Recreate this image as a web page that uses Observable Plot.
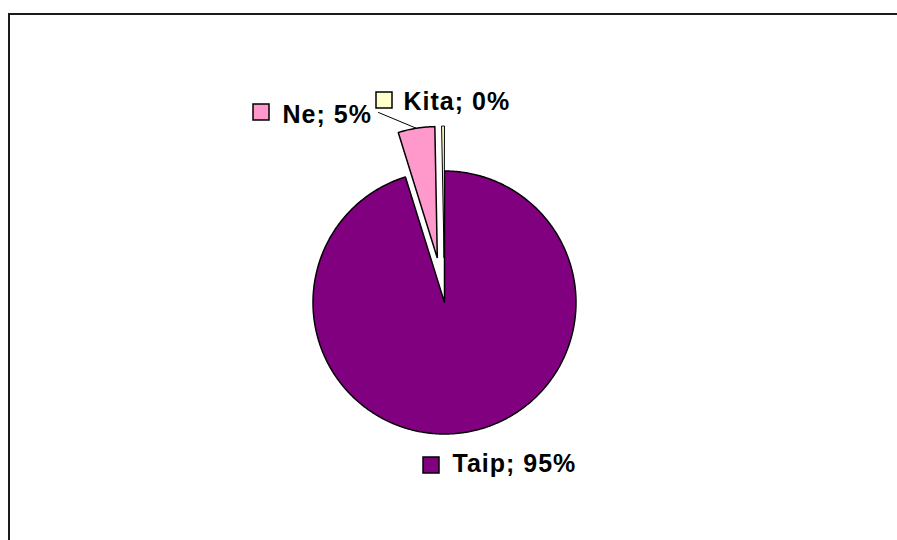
<!DOCTYPE html>
<html>
<head>
<meta charset="utf-8">
<script src="https://cdn.jsdelivr.net/npm/d3@7"></script>
<script src="https://cdn.jsdelivr.net/npm/@observablehq/plot@0.6"></script>
<style>
  html, body { margin: 0; padding: 0; background: #fff; overflow: hidden; }
  #wrap { position: relative; width: 897px; height: 540px; overflow: hidden; }
  #frame { position: absolute; left: 8px; top: 13px; width: 889px; height: 527px; border-top: 2px solid #1a1a1a; border-left: 2px solid #1a1a1a; box-sizing: border-box; }
  #chart { position: absolute; left: 0; top: 0; }
</style>
</head>
<body>
<div id="wrap"><div id="frame"></div><div id="chart"></div></div>
<script>
// ---- data ----
const categories = ["Taip", "Ne", "Kita"];
const values = [95.2, 4.5, 0.3];
const labels = ["Taip; 95%", "Ne; 5%", "Kita; 0%"];
const colors = ["#800080", "#FF99CC", "#FFFFCC"];
const exploded = [false, true, true];

// ---- layout ----
const W = 897, H = 540;
const center = [444, 302];
const radius = 131.5;
const explodeDist = 45;
const labelLayout = [ // text start x, baseline y, key square left, key square top
  {tx: 452, ty: 471, sx: 423, sy: 457},
  {tx: 282, ty: 122, sx: 253, sy: 104},
  {tx: 403, ty: 109, sx: 376, sy: 92}
];
const keySize = 16;
const leaderStart = [378, 112];

const pie = d3.pie().sort(null).startAngle(0).endAngle(2 * Math.PI)(values);

const slices = pie.map((p, i) => {
  const mid = (p.startAngle + p.endAngle) / 2;
  const off = exploded[i] ? explodeDist : 0;
  const cx = center[0] + off * Math.sin(mid);
  const cy = center[1] - off * Math.cos(mid);
  const pts = [{x: cx, y: cy}];
  const n = Math.max(2, Math.ceil((p.endAngle - p.startAngle) / (Math.PI / 360)));
  for (let k = 0; k <= n; k++) {
    const a = p.startAngle + (p.endAngle - p.startAngle) * k / n;
    pts.push({x: cx + radius * Math.sin(a), y: cy - radius * Math.cos(a)});
  }
  return {cat: categories[i], color: colors[i], pts, mid, cx, cy};
});

const ne = slices[1];
const leader = [
  {x: leaderStart[0], y: leaderStart[1]},
  {x: ne.cx + radius * Math.sin(ne.mid), y: ne.cy - radius * Math.cos(ne.mid)}
];

const labelData = categories.map((c, i) => ({
  label: labels[i], color: colors[i], ...labelLayout[i]
}));

const sliceMark = (s, sw) => Plot.line(s.pts, {
  x: "x", y: "y", fill: s.color, stroke: "#000", strokeWidth: sw,
  curve: "linear-closed", strokeLinejoin: "miter"
});

const chart = Plot.plot({
  width: W, height: H,
  margin: 0,
  x: {domain: [0, W], range: [0, W], axis: null},
  y: {domain: [0, H], range: [0, H], axis: null},
  style: {background: "transparent", overflow: "visible"},
  marks: [
    sliceMark(slices[0], 1.5),
    Plot.line(leader, {x: "x", y: "y", stroke: "#000", strokeWidth: 1}),
    sliceMark(slices[1], 1.5),
    sliceMark(slices[2], 1),
    Plot.rect(labelData, {
      x1: "sx", x2: d => d.sx + keySize, y1: "sy", y2: d => d.sy + keySize,
      fill: "color", stroke: "#000", strokeWidth: 1.5
    }),
    Plot.text(labelData, {
      x: "tx", y: "ty", text: "label", textAnchor: "start", lineAnchor: "bottom",
      fill: "#000", fontSize: 25, fontWeight: "bold",
      fontFamily: "'Liberation Sans', Arial, sans-serif"
    })
  ]
});
chart.querySelectorAll("text").forEach(t => t.setAttribute("letter-spacing", "1"));
document.getElementById("chart").appendChild(chart);
</script>
</body>
</html>
